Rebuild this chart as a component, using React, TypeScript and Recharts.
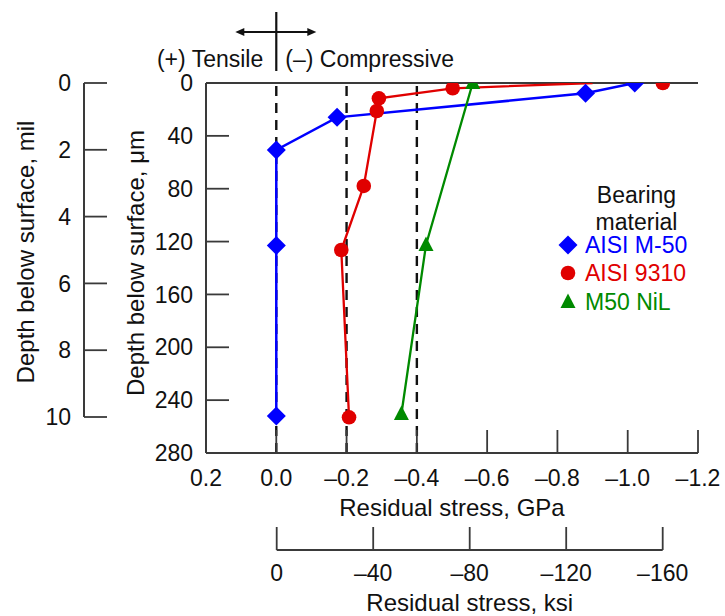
import React from 'react';
import { ComposedChart, Line, XAxis, YAxis, ReferenceLine, Legend } from 'recharts';

const FONT = '"Liberation Sans", Arial, Helvetica, sans-serif';
const TEXT = '#111111';
const AXIS = '#3a3a3a';
const BLUE = '#0000FF';
const RED = '#E00000';
const GREEN = '#008A00';

// Residual stress (GPa) vs depth below surface (µm)
const m50Stress = [-1.02, -0.88, -0.173, 0.0, 0.0, 0.0];
const m50Depth = [0, 7.8, 26, 50.7, 123, 252];

const aisi9310Stress = [-0.9, -0.502, -0.292, -0.286, -0.249, -0.185, -0.207];
const aisi9310Depth = [0, 4, 11.6, 21.2, 77.9, 126.4, 253];
const aisi9310Marker = [false, true, true, true, true, true, true];
const aisi9310SurfaceStress = [-1.1];
const aisi9310SurfaceDepth = [0];

const nilStress = [-0.559, -0.426, -0.356];
const nilDepth = [0, 122.6, 250.5];

const gpaTicks = [0.2, 0, -0.2, -0.4, -0.6, -0.8, -1.0, -1.2];
const depthTicks = [0, 40, 80, 120, 160, 200, 240, 280];
const milTicks = [0, 2, 4, 6, 8, 10];
const ksiTicks = [0, -40, -80, -120, -160];
const guideStress = [0, -0.2, -0.4];

const legendItems = [
  { name: 'AISI M-50', color: BLUE, shape: 'diamond' },
  { name: 'AISI 9310', color: RED, shape: 'circle' },
  { name: 'M50 NiL', color: GREEN, shape: 'triangle' },
];

const zip = (xs: number[], ys: number[], marks?: boolean[]) =>
  xs.map((x, i) => ({ x, y: ys[i], marker: marks ? marks[i] : true }));

const m50Data = zip(m50Stress, m50Depth);
const aisi9310Data = zip(aisi9310Stress, aisi9310Depth, aisi9310Marker);
const aisi9310SurfaceData = zip(aisi9310SurfaceStress, aisi9310SurfaceDepth);
const nilData = zip(nilStress, nilDepth);
const milData = milTicks.map((m) => ({ m }));
const ksiData = ksiTicks.map((k) => ({ k }));

const W = 725;
const H = 616;

function markerShape(shape: string, color: string, cx: number, cy: number) {
  if (shape === 'diamond') {
    const r = 9.5;
    return <polygon points={`${cx},${cy - r} ${cx + r},${cy} ${cx},${cy + r} ${cx - r},${cy}`} fill={color} />;
  }
  if (shape === 'circle') {
    return <circle cx={cx} cy={cy} r={7.3} fill={color} />;
  }
  return <polygon points={`${cx},${cy - 8.5} ${cx + 7.5},${cy + 6} ${cx - 7.5},${cy + 6}`} fill={color} />;
}

function makeDot(shape: string, color: string) {
  return (p: any) => {
    const key = `dot-${shape}-${p.index}`;
    if (p.cx == null || p.cy == null || (p.payload && p.payload.marker === false)) return <g key={key} />;
    return <g key={key}>{markerShape(shape, color, p.cx, p.cy)}</g>;
  };
}

const fmtGpa = (v: number) => (Math.abs(v) < 1e-9 ? '0.0' : v > 0 ? v.toFixed(1) : '\u2013' + Math.abs(v).toFixed(1));
const fmtKsi = (v: number) => (v === 0 ? '0' : '\u2013' + Math.abs(v));

const textProps = { fontFamily: FONT, fontSize: 23, fill: TEXT };

const GpaTick = (p: any) => (
  <g>
    <line x1={p.x} x2={p.x} y1={p.y} y2={p.y - 23} stroke={AXIS} strokeWidth={1.8} />
    <text x={p.x} y={p.y + 25} dy="0.355em" textAnchor="middle" {...textProps}>{fmtGpa(p.payload.value)}</text>
  </g>
);

const KsiTick = (p: any) => (
  <g>
    <line x1={p.x} x2={p.x} y1={p.y} y2={p.y - 23} stroke={AXIS} strokeWidth={1.8} />
    <text x={p.x} y={p.y + 23} dy="0.355em" textAnchor="middle" {...textProps}>{fmtKsi(p.payload.value)}</text>
  </g>
);

const LeftTick = (p: any) => (
  <g>
    <line x1={p.x} x2={p.x + 23} y1={p.y} y2={p.y} stroke={AXIS} strokeWidth={1.8} />
    <text x={p.x - 13} y={p.y} dy="0.355em" textAnchor="end" {...textProps}>{p.payload.value}</text>
  </g>
);

const bottomTitle = (text: string, dy: number) => (props: any) => {
  const vb = props.viewBox || { x: 0, y: 0, width: 0, height: 0 };
  return (
    <text x={vb.x + vb.width / 2} y={vb.y + dy} dy="0.355em" textAnchor="middle" fontFamily={FONT} fontSize={24} fill={TEXT}>
      {text}
    </text>
  );
};

const leftTitle = (text: string, cx: number, cyShift: number) => (props: any) => {
  const vb = props.viewBox || { x: 0, y: 0, width: 0, height: 0 };
  const x = vb.x + cx;
  const y = vb.y + vb.height / 2 + cyShift;
  return (
    <text x={x} y={y} dy="0.355em" textAnchor="middle" transform={`rotate(-90, ${x}, ${y})`} fontFamily={FONT} fontSize={24} fill={TEXT}>
      {text}
    </text>
  );
};

const Crosshair = (props: any) => {
  const vb = props.viewBox || { x: 0, y: 0 };
  const x = vb.x;
  const top = vb.y;
  const ay = top - 51;
  return (
    <g>
      <line x1={x} x2={x} y1={top - 71} y2={top - 12} stroke="#111" strokeWidth={2.2} />
      <line x1={x - 36} x2={x + 36} y1={ay} y2={ay} stroke="#111" strokeWidth={2} />
      <polygon points={`${x - 41},${ay} ${x - 32},${ay - 4} ${x - 32},${ay + 4}`} fill="#111" />
      <polygon points={`${x + 40},${ay} ${x + 31},${ay - 4} ${x + 31},${ay + 4}`} fill="#111" />
      <text x={x - 13} y={top - 24} dy="0.355em" textAnchor="end" {...textProps}>{'(+) Tensile'}</text>
      <text x={x + 9} y={top - 24} dy="0.355em" textAnchor="start" {...textProps}>{'(\u2013) Compressive'}</text>
    </g>
  );
};

const LegendContent = () => (
  <div style={{ position: 'relative', width: 170, height: 140, fontFamily: FONT, fontSize: 23, lineHeight: '22px' }}>
    <div style={{ position: 'absolute', left: 0, top: 4, width: 161, textAlign: 'center', color: TEXT }}>Bearing</div>
    <div style={{ position: 'absolute', left: 0, top: 30.5, width: 161, textAlign: 'center', color: TEXT }}>material</div>
    {legendItems.map((it, i) => (
      <div key={it.name} style={{ position: 'absolute', left: 0, top: 53 + 28.3 * i, height: 24, width: 170 }}>
        <svg width={24} height={24} style={{ position: 'absolute', left: 0, top: 0 }}>
          {markerShape(it.shape, it.color, 12, 12)}
        </svg>
        <div style={{ position: 'absolute', left: 29, top: 1, lineHeight: '22px', color: it.color, whiteSpace: 'nowrap' }}>{it.name}</div>
      </div>
    ))}
  </div>
);

export default function App() {
  return (
    <div style={{ position: 'absolute', left: 0, top: 0, width: W, height: H, background: '#fff', fontFamily: FONT }}>
      <div style={{ position: 'absolute', left: 0, top: 0 }}>
        <ComposedChart width={W} height={H} margin={{ top: 83, right: 27, bottom: 103, left: 146 }}>
          <XAxis
            type="number"
            dataKey="x"
            domain={[-1.2, 0.2]}
            reversed
            allowDataOverflow
            ticks={gpaTicks}
            interval={0}
            height={60}
            tickLine={false}
            tickSize={0}
            tickMargin={0}
            axisLine={{ stroke: AXIS, strokeWidth: 2 }}
            tick={GpaTick}
            label={bottomTitle('Residual stress, GPa', 54)}
          />
          <YAxis
            type="number"
            dataKey="y"
            domain={[0, 280]}
            reversed
            allowDataOverflow
            ticks={depthTicks}
            interval={0}
            width={60}
            tickLine={false}
            tickSize={0}
            tickMargin={0}
            axisLine={{ stroke: AXIS, strokeWidth: 2 }}
            tick={LeftTick}
            label={leftTitle('Depth below surface, \u03bcm', -11, -5)}
          />
          <ReferenceLine y={0} stroke={AXIS} strokeWidth={2} />
          {guideStress.map((g) => (
            <ReferenceLine
              key={`g${g}`}
              x={g}
              stroke="#111"
              strokeWidth={2.4}
              strokeDasharray="10 7"
              label={g === 0 ? Crosshair : undefined}
            />
          ))}
          <Line data={m50Data} dataKey="y" name="AISI M-50" type="linear" stroke={BLUE} strokeWidth={2.5} dot={makeDot('diamond', BLUE)} activeDot={false} isAnimationActive={false} />
          <Line data={aisi9310Data} dataKey="y" name="AISI 9310" type="linear" stroke={RED} strokeWidth={2.3} dot={makeDot('circle', RED)} activeDot={false} isAnimationActive={false} />
          <Line data={aisi9310SurfaceData} dataKey="y" name="AISI 9310 surface" type="linear" stroke="none" dot={makeDot('circle', RED)} activeDot={false} isAnimationActive={false} legendType="none" />
          <Line data={nilData} dataKey="y" name="M50 NiL" type="linear" stroke={GREEN} strokeWidth={2.3} dot={makeDot('triangle', GREEN)} activeDot={false} isAnimationActive={false} />
          <Legend
            layout="vertical"
            align="center"
            verticalAlign="middle"
            content={LegendContent}
            wrapperStyle={{ left: 556, top: 180, width: 170, height: 140 }}
          />
        </ComposedChart>
      </div>

      <div style={{ position: 'absolute', left: 0, top: 0, pointerEvents: 'none' }}>
        <ComposedChart data={milData} width={W} height={H} margin={{ top: 83, right: 591, bottom: 199, left: 24 }}>
          <XAxis type="number" hide domain={[0, 1]} />
          <YAxis
            type="number"
            dataKey="m"
            domain={[0, 10]}
            reversed
            allowDataOverflow
            ticks={milTicks}
            interval={0}
            width={60}
            tickLine={false}
            tickSize={0}
            tickMargin={0}
            axisLine={{ stroke: AXIS, strokeWidth: 2 }}
            tick={LeftTick}
            label={leftTitle('Depth below surface, mil', 1, 2)}
          />
        </ComposedChart>
      </div>

      <div style={{ position: 'absolute', left: 0, top: 0, pointerEvents: 'none' }}>
        <ComposedChart data={ksiData} width={W} height={H} margin={{ top: 500, right: 62.3, bottom: 6, left: 276.7 }}>
          <YAxis type="number" hide domain={[0, 1]} />
          <XAxis
            type="number"
            dataKey="k"
            domain={[-160, 0]}
            reversed
            allowDataOverflow
            ticks={ksiTicks}
            interval={0}
            height={60}
            tickLine={false}
            tickSize={0}
            tickMargin={0}
            axisLine={{ stroke: AXIS, strokeWidth: 2 }}
            tick={KsiTick}
            label={bottomTitle('Residual stress, ksi', 52)}
          />
        </ComposedChart>
      </div>
    </div>
  );
}
